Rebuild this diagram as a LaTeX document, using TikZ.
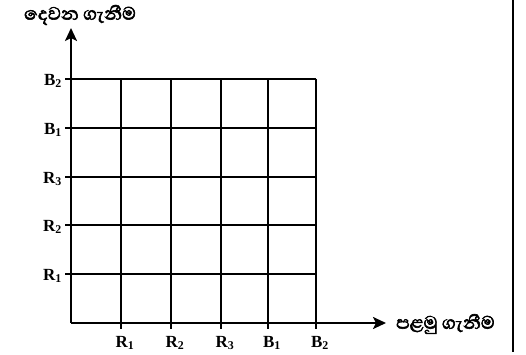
\documentclass[tikz,border=0pt]{standalone}
\usepackage{fontspec}
\setmainfont{Liberation Serif}
\newfontfamily\sinhala[Script=Sinhala,FakeBold=2.5]{Abhaya Libre}
\usetikzlibrary{arrows.meta}
\tikzset{
  axis/.style={line width=2.4pt,-{Stealth[length=13pt,width=12pt,inset=3pt]}},
  gridline/.style={line width=1.4pt},
  lbl/.style={font=\fontsize{17}{17}\selectfont\bfseries,inner sep=1pt},
  sinh/.style={font=\fontsize{23}{23}\selectfont\sinhala,inner sep=0pt},
  edge/.style={line width=2.8pt}
}
\begin{document}
\begin{tikzpicture}[x=1pt,y=-1pt]
\useasboundingbox (0,0) rectangle (526,355);
% origin and axis ends
\coordinate (O) at (71,323);
\coordinate (Ytip) at (71,28);
\coordinate (Xtip) at (386,323);
% horizontal grid lines
\foreach \y/\n in {274/1,225/2,177/3,128/4,79/5}{
  \coordinate (hl\n) at (65,\y);
  \coordinate (hr\n) at (316,\y);
  \draw[gridline] (hl\n) -- (hr\n);
}
% vertical grid lines
\foreach \x/\n in {121/1,171/2,221/3,268/4,316/5}{
  \coordinate (vt\n) at (\x,79);
  \coordinate (vb\n) at (\x,329);
  \draw[gridline] (vt\n) -- (vb\n);
}
% axes
\draw[axis] (O) -- (Ytip);
\draw[axis] (O) -- (Xtip);
% y labels
\node[lbl,anchor=east] (yl1) at (63,276) {R$_{\mathbf 1}$};
\node[lbl,anchor=east] (yl2) at (63,227) {R$_{\mathbf 2}$};
\node[lbl,anchor=east] (yl3) at (63,179) {R$_{\mathbf 3}$};
\node[lbl,anchor=east] (yl4) at (63,130) {B$_{\mathbf 1}$};
\node[lbl,anchor=east] (yl5) at (63,81) {B$_{\mathbf 2}$};
% x labels
\node[lbl] (xl1) at (125,343) {R$_{\mathbf 1}$};
\node[lbl] (xl2) at (175,343) {R$_{\mathbf 2}$};
\node[lbl] (xl3) at (225,343) {R$_{\mathbf 3}$};
\node[lbl] (xl4) at (272,343) {B$_{\mathbf 1}$};
\node[lbl] (xl5) at (320,343) {B$_{\mathbf 2}$};
% axis titles
\node[sinh] (ytitle) at (80,15) {දෙවන ගැනීම};
\node[sinh,anchor=west] (xtitle) at (396,324) {පළමු ගැනීම};
% right border line
\coordinate (bt) at (513,0);
\coordinate (bb) at (513,352);
\draw[edge] (bt) -- (bb);
\end{tikzpicture}
\end{document}
